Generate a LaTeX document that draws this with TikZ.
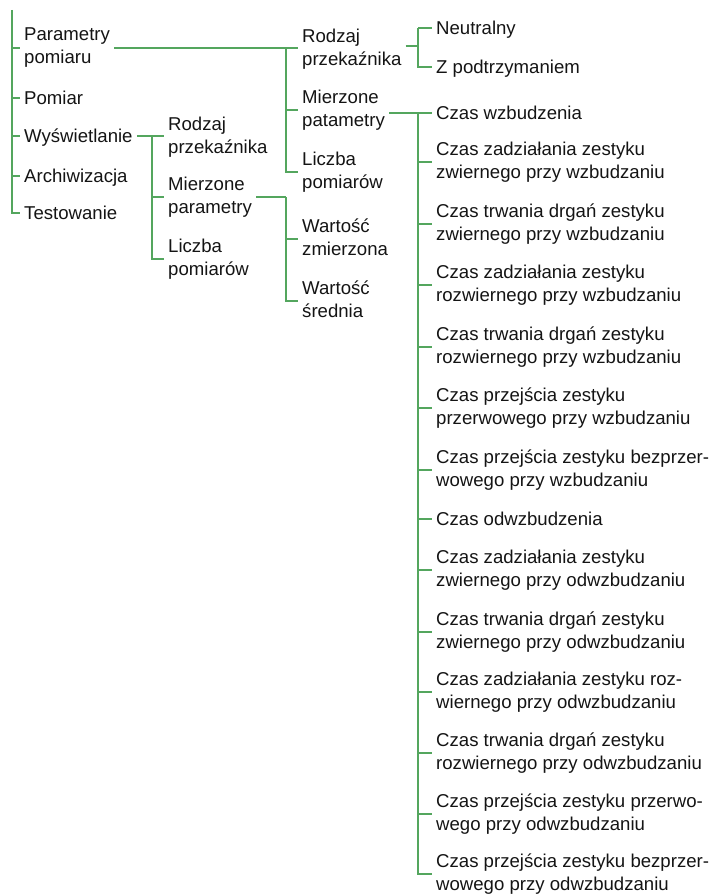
\documentclass[tikz,border=0pt]{standalone}
\usepackage{fontspec}
\setmainfont{Liberation Sans}
\newcommand{\sx}{\rule[-4.4pt]{0pt}{22.4pt}}
\definecolor{treegreen}{RGB}{84,166,94}
\tikzset{
  lbl/.style={anchor=west, align=left, inner xsep=4pt, inner ysep=0pt,
    font=\fontsize{18.6}{23}\selectfont, text=black!92,
    execute at begin node=\sx, execute at end node=\sx},
  conn/.style={draw=treegreen, line width=1.1pt}
}
\begin{document}
\begin{tikzpicture}[x=1pt,y=-1pt]
\useasboundingbox (0,0) rectangle (713,896);
% root level
\node[lbl] (pp) at (20,48) {Parametry\\pomiaru};
\node[lbl] (pom) at (20,98) {Pomiar};
\node[lbl] (wys) at (20,136) {Wyświetlanie};
\node[lbl] (arch) at (20,176) {Archiwizacja};
\node[lbl] (test) at (20,213) {Testowanie};
\coordinate (top) at (12,10);
% level A
\node[lbl] (rpa) at (298,49) {Rodzaj\\przekaźnika};
\node[lbl] (mpa) at (298,110) {Mierzone\\patametry};
\node[lbl] (lpa) at (298,172) {Liczba\\pomiarów};
\coordinate (busA) at (286,48);
% relay types
\node[lbl] (neu) at (432,28) {Neutralny};
\node[lbl] (zp) at (432,67) {Z podtrzymaniem};
\coordinate (busR) at (418,46);
% level B
\node[lbl] (rpb) at (164,137) {Rodzaj\\przekaźnika};
\node[lbl] (mpb) at (164,197) {Mierzone\\parametry};
\node[lbl] (lpb) at (164,259) {Liczba\\pomiarów};
\coordinate (busB) at (152,137);
\node[lbl] (wz) at (298,239) {Wartość\\zmierzona};
\node[lbl] (ws) at (298,301) {Wartość\\średnia};
\coordinate (busW) at (286,197);
% measured parameters
\node[lbl] (c1) at (432,113) {Czas wzbudzenia};
\node[lbl] (c2) at (432,162) {Czas zadziałania zestyku\\zwiernego przy wzbudzaniu};
\node[lbl] (c3) at (432,224) {Czas trwania drgań zestyku\\zwiernego przy wzbudzaniu};
\node[lbl] (c4) at (432,285) {Czas zadziałania zestyku\\rozwiernego przy wzbudzaniu};
\node[lbl] (c5) at (432,347) {Czas trwania drgań zestyku\\rozwiernego przy wzbudzaniu};
\node[lbl] (c6) at (432,408) {Czas przejścia zestyku\\przerwowego przy wzbudzaniu};
\node[lbl] (c7) at (432,470) {Czas przejścia zestyku bezprzer-\\wowego przy wzbudzaniu};
\node[lbl] (c8) at (432,519) {Czas odwzbudzenia};
\node[lbl] (c9) at (432,570) {Czas zadziałania zestyku\\zwiernego przy odwzbudzaniu};
\node[lbl] (c10) at (432,632) {Czas trwania drgań zestyku\\zwiernego przy odwzbudzaniu};
\node[lbl] (c11) at (432,692) {Czas zadziałania zestyku roz-\\wiernego przy odwzbudzaniu};
\node[lbl] (c12) at (432,753) {Czas trwania drgań zestyku\\rozwiernego przy odwzbudzaniu};
\node[lbl] (c13) at (432,814) {Czas przejścia zestyku przerwo-\\wego przy odwzbudzaniu};
\node[lbl] (c14) at (432,874) {Czas przejścia zestyku bezprzer-\\wowego przy odwzbudzaniu};
\coordinate (busC) at (418,113);
% connectors: root
\draw[conn] (top) |- (test.west);
\foreach \n in {pp,pom,wys,arch} \draw[conn] (top |- \n.west) -- (\n.west);
% Parametry pomiaru
\draw[conn] (pp.east) -- (pp.east -| rpa.west);
\draw[conn] (busA) |- (lpa.west);
\draw[conn] (busA |- mpa.west) -- (mpa.west);
% Rodzaj przekaznika
\draw[conn] (rpa.east |- busR) -- (busR);
\draw[conn] (busR |- neu.west) -- (neu.west);
\draw[conn] (busR |- neu.west) |- (zp.west);
% Mierzone patametry
\draw[conn] (mpa.east |- c1.west) -- (c1.west);
\draw[conn] (busC) |- (c14.west);
\foreach \n in {c2,c3,c4,c5,c6,c7,c8,c9,c10,c11,c12,c13} \draw[conn] (busC |- \n.west) -- (\n.west);
% Wyswietlanie
\draw[conn] (wys.east) -- (wys.east -| rpb.west);
\draw[conn] (busB) |- (lpb.west);
\draw[conn] (busB |- mpb.west) -- (mpb.west);
% Mierzone parametry
\draw[conn] (mpb.east) -- (busW);
\draw[conn] (busW) |- (ws.west);
\draw[conn] (busW |- wz.west) -- (wz.west);
\end{tikzpicture}
\end{document}
